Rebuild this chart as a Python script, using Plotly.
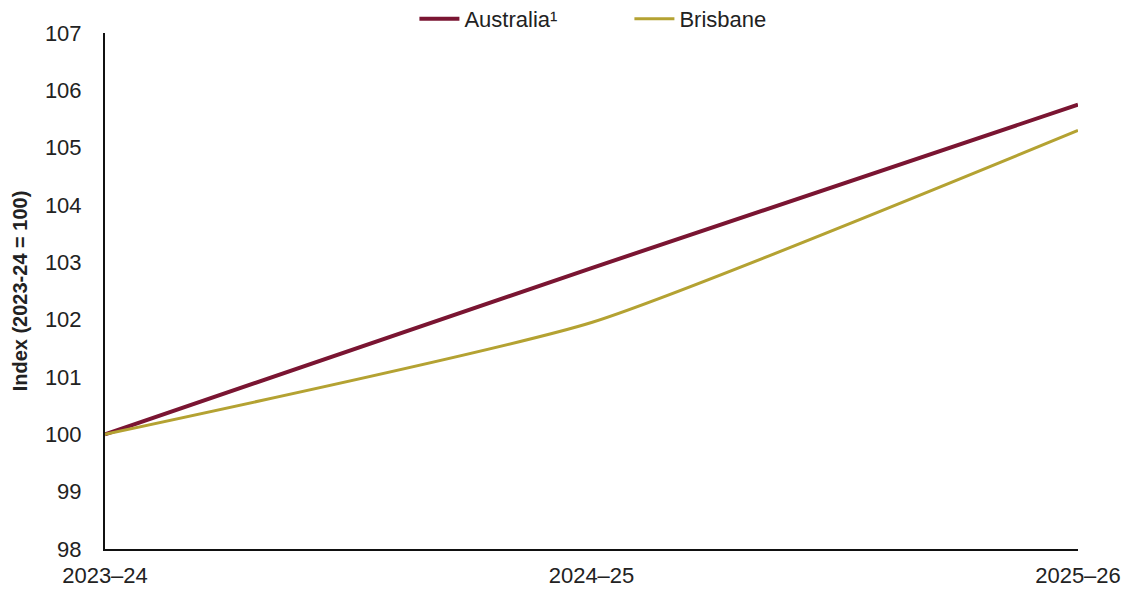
import plotly.graph_objects as go

years = ["2023–24", "2024–25", "2025–26"]
australia = [100.0, 102.9, 105.75]
brisbane = [100.0, 101.95, 105.3]
y_ticks = [98, 99, 100, 101, 102, 103, 104, 105, 106, 107]

fig = go.Figure()
fig.add_trace(go.Scatter(
    x=years, y=australia, name="Australia¹", mode="lines",
    line=dict(color="#7A1532", width=4),
))
fig.add_trace(go.Scatter(
    x=years, y=brisbane, name="Brisbane", mode="lines",
    line=dict(color="#B4A232", width=3, shape="spline", smoothing=0.5),
))

fig.update_layout(
    width=1130, height=592,
    margin=dict(l=105, r=52, t=33, b=43, autoexpand=False),
    paper_bgcolor="white", plot_bgcolor="white",
    font=dict(family="Liberation Sans, Arial, sans-serif", size=22, color="#222"),
    legend=dict(orientation="h", x=0.318, xanchor="left",
                yref="container", y=0.968, yanchor="middle",
                font=dict(size=22), traceorder="normal",
                entrywidth=160, entrywidthmode="pixels", itemwidth=40),
    xaxis=dict(
        type="category", range=[0, 2], showgrid=False, zeroline=False,
        showline=True, linecolor="#111", linewidth=2,
        ticks="", ticklabelstandoff=6,
    ),
    yaxis=dict(
        range=[98, 107], tickvals=y_ticks, showgrid=False, zeroline=False,
        showline=True, linecolor="#111", linewidth=2,
        ticks="", ticklabelstandoff=17,
        title=dict(text="<b>Index (2023-24 = 100)</b>", font=dict(size=20, color="#222"),
                   standoff=12),
    ),
)

fig.write_html("out.html")
